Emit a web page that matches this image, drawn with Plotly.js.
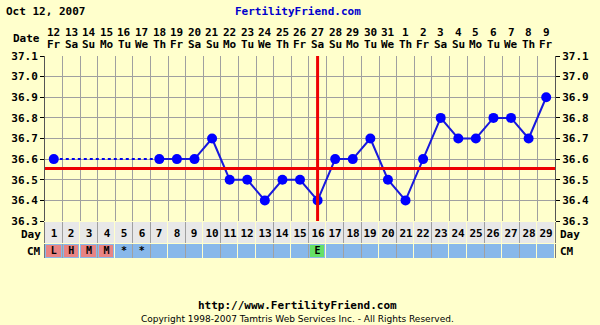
<!DOCTYPE html>
<html><head><meta charset="utf-8">
<script src="https://cdn.plot.ly/plotly-3.0.1.min.js"></script>
<style>html,body{margin:0;padding:0;background:#ffffcc;}#chart{width:600px;height:325px;}</style>
</head><body><div id="chart"></div>
<script>
const cycleDays = [1,2,3,4,5,6,7,8,9,10,11,12,13,14,15,16,17,18,19,20,21,22,23,24,25,26,27,28,29];
const dateNums = ['12','13','14','15','16','17','18','19','20','21','22','23','24','25','26','27','28','29','30','31','1','2','3','4','5','6','7','8','9'];
const weekDays = ['Fr','Sa','Su','Mo','Tu','We','Th','Fr','Sa','Su','Mo','Tu','We','Th','Fr','Sa','Su','Mo','Tu','We','Th','Fr','Sa','Su','Mo','Tu','We','Th','Fr'];
const temps = [36.6,null,null,null,null,null,36.6,36.6,36.6,36.7,36.5,36.5,36.4,36.5,36.5,36.4,36.6,36.6,36.7,36.5,36.4,36.6,36.8,36.7,36.7,36.8,36.8,36.7,36.9];
const cmLabels = ['L','H','M','M','*','*','','','','','','','','','','E','','','','','','','','','','','','',''];
const coverline = 36.555;
const ovulationDay = 16;
const yTicks = [36.3,36.4,36.5,36.6,36.7,36.8,36.9,37.0,37.1];

const FONT = 'DejaVu Sans Mono, monospace';
const L = 45, R = 555, TOP = 56, BOT = 258;
const px2x = p => (p - L) / (R - L);
const py2y = p => (BOT - p) / (BOT - TOP);

// dashed segments across missing temps
const gapX = [], gapY = [];
for (let i = 0; i < temps.length; i++) {
  if (temps[i] !== null && i + 1 < temps.length && temps[i+1] === null) {
    let j = i + 1;
    while (j < temps.length && temps[j] === null) j++;
    if (j < temps.length) { gapX.push(cycleDays[i], cycleDays[j], null); gapY.push(temps[i], temps[j], null); }
  }
}

const cmCode = cmLabels.map(c => (c === 'L' || c === 'H' || c === 'M') ? 1 : (c === 'E' ? 2 : null));

const traces = [
  { x: gapX, y: gapY, mode: 'lines', line: {color: '#0000ee', width: 2, dash: 'dot'}, hoverinfo: 'skip', xaxis: 'x', yaxis: 'y' },
  { x: cycleDays, y: temps, mode: 'lines+markers', connectgaps: false,
    line: {color: '#1818dd', width: 2}, marker: {color: '#0000ff', size: 10}, xaxis: 'x', yaxis: 'y' },
  { type: 'heatmap', x: cycleDays, y: [0], z: [cycleDays.map(() => 0)], colorscale: [[0,'#e8e8e8'],[1,'#e8e8e8']],
    showscale: false, xgap: 1, ygap: 0, text: [cycleDays.map(String)], texttemplate: '<b>%{text}</b>',
    textfont: {family: FONT, size: 11, color: '#000'}, hoverinfo: 'skip', xaxis: 'x', yaxis: 'y2' },
  { type: 'heatmap', x: cycleDays, y: [0], z: [cycleDays.map(() => 0)], colorscale: [[0,'#88b8ea'],[1,'#88b8ea']],
    showscale: false, xgap: 1, ygap: 0, hoverinfo: 'skip', xaxis: 'x', yaxis: 'y3' },
  { type: 'heatmap', x: cycleDays, y: [0], z: [cmCode], zmin: 1, zmax: 2, colorscale: [[0,'#e88484'],[1,'#66e066']],
    showscale: false, xgap: 3, ygap: 2, hoverinfo: 'skip', xaxis: 'x', yaxis: 'y3' },
  { type: 'scatter', mode: 'text', x: cycleDays, y: cycleDays.map(() => 0), text: cmLabels.map(c => '<b>' + c + '</b>'),
    textfont: {family: FONT, size: 10, color: '#000'}, hoverinfo: 'skip', xaxis: 'x', yaxis: 'y3' }
];

const annotations = [];
cycleDays.forEach((d, i) => {
  annotations.push({xref: 'x', yref: 'paper', x: d, y: py2y(33), text: '<b>' + dateNums[i] + '</b>', showarrow: false,
    font: {family: FONT, size: 11, color: '#000'}, xanchor: 'center', yanchor: 'middle'});
  annotations.push({xref: 'x', yref: 'paper', x: d, y: py2y(45), text: '<b>' + weekDays[i] + '</b>', showarrow: false,
    font: {family: FONT, size: 11, color: '#000'}, xanchor: 'center', yanchor: 'middle'});
});
annotations.push({xref: 'paper', yref: 'paper', x: px2x(42), y: py2y(39), text: '<b>Date</b>', showarrow: false,
  font: {family: FONT, size: 11, color: '#000'}, xanchor: 'right', yanchor: 'middle'});
[['Day','y2'],['CM','y3']].forEach(([t, ax]) => {
  annotations.push({xref: 'paper', yref: ax, x: px2x(43), y: 0, yshift: t === 'Day' ? -2 : 0, text: '<b>' + t + '</b>', showarrow: false,
    font: {family: FONT, size: 11, color: '#000'}, xanchor: 'right', yanchor: 'middle'});
  annotations.push({xref: 'paper', yref: ax, x: px2x(558), y: 0, yshift: t === 'Day' ? -2 : 0, text: '<b>' + t + '</b>', showarrow: false,
    font: {family: FONT, size: 11, color: '#000'}, xanchor: 'left', yanchor: 'middle'});
});
annotations.push({xref: 'paper', yref: 'paper', x: px2x(4), y: py2y(11), text: '<b>Oct 12, 2007</b>', showarrow: false,
  font: {family: FONT, size: 11, color: '#000'}, xanchor: 'left', yanchor: 'middle'});
annotations.push({xref: 'paper', yref: 'paper', x: px2x(298), y: py2y(11), text: '<b>FertilityFriend.com</b>', showarrow: false,
  font: {family: FONT, size: 11, color: '#0000cc'}, xanchor: 'center', yanchor: 'middle'});
annotations.push({xref: 'paper', yref: 'paper', x: px2x(297), y: py2y(305), text: '<b>http://www.FertilityFriend.com</b>', showarrow: false,
  font: {family: FONT, size: 11, color: '#000'}, xanchor: 'center', yanchor: 'middle'});
annotations.push({xref: 'paper', yref: 'paper', x: px2x(297), y: py2y(319), text: 'Copyright 1998-2007 Tamtris Web Services Inc. - All Rights Reserved.', showarrow: false,
  font: {family: 'DejaVu Sans, sans-serif', size: 9, color: '#000'}, xanchor: 'center', yanchor: 'middle'});

const yCommon = {range: [36.3, 37.1], tickvals: yTicks, ticktext: yTicks.map(v => '<b>' + v.toFixed(1) + '</b>'),
  tickfont: {family: FONT, size: 11, color: '#000'}, ticks: 'outside', ticklen: 4, tickcolor: '#000', fixedrange: true};

const layout = {
  width: 600, height: 325,
  margin: {l: L, r: 600 - R, t: TOP, b: 325 - BOT, pad: 0},
  paper_bgcolor: '#ffffcc', plot_bgcolor: '#ffffcc',
  showlegend: false,
  xaxis: {range: [0.5, 29.5], tick0: 0.5, dtick: 1, showticklabels: false, showgrid: true, gridcolor: '#a0a0a0', gridwidth: 1,
    zeroline: false, ticks: '', anchor: 'y', fixedrange: true},
  yaxis: Object.assign({}, yCommon, {domain: [py2y(221), 1], showgrid: true, gridcolor: '#a0a0a0', zeroline: false,
    showline: true, linecolor: '#555', mirror: true, side: 'left'}),
  yaxis4: Object.assign({}, yCommon, {overlaying: 'y', side: 'right', showgrid: false, zeroline: false, showline: false}),
  yaxis2: {domain: [py2y(243), py2y(222)], range: [-0.5, 0.5], showticklabels: false, showgrid: false, zeroline: false,
    showline: true, linecolor: '#777', mirror: true, ticks: '', fixedrange: true},
  yaxis3: {domain: [0, py2y(244)], range: [-0.5, 0.5], showticklabels: false, showgrid: false, zeroline: false,
    showline: true, linecolor: '#777', mirror: true, ticks: '', fixedrange: true},
  shapes: [
    {type: 'line', xref: 'x domain', yref: 'y', x0: 0, x1: 1, y0: coverline, y1: coverline, line: {color: '#ee0000', width: 3}},
    {type: 'line', xref: 'x', yref: 'y domain', x0: ovulationDay, x1: ovulationDay, y0: 0, y1: 1, line: {color: '#ee0000', width: 3}}
  ],
  annotations: annotations
};
traces.push({x: [cycleDays[0]], y: [yTicks[0]], mode: 'markers', marker: {opacity: 0}, hoverinfo: 'skip', xaxis: 'x', yaxis: 'y4'});
Plotly.newPlot('chart', traces, layout, {displayModeBar: false, staticPlot: true});
</script></body></html>
